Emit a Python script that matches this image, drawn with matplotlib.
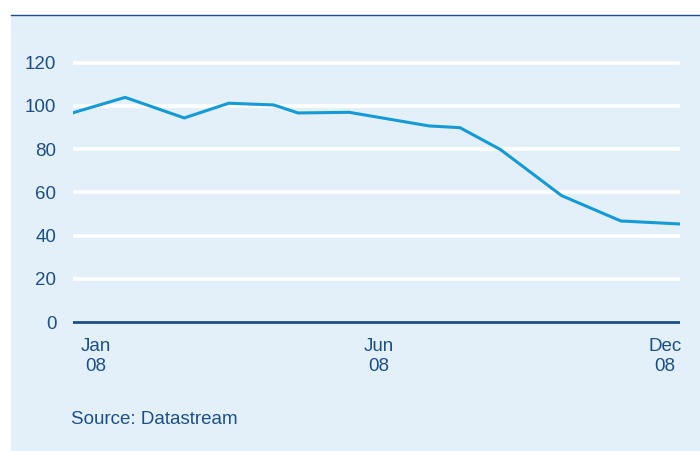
import matplotlib
matplotlib.use('Agg')
import matplotlib.pyplot as plt
from matplotlib.patches import Rectangle
from matplotlib.lines import Line2D

# index values, x in months from start of Jan 08
months = [0.0, 1.03, 2.2, 3.08, 3.97, 4.45, 5.46, 7.04, 7.65, 8.45, 9.66, 10.83, 12.0]
values = [96.8, 103.9, 94.4, 101.2, 100.4, 96.7, 97.0, 90.7, 89.9, 79.8, 58.5, 46.8, 45.4]

yticks = [0, 20, 40, 60, 80, 100, 120]
xtick_pos = [0.45, 6.05, 11.7]
xtick_labels = ['Jan\n08', 'Jun\n08', 'Dec\n08']

NAVY = '#1d4f86'
BG = '#e3f0f9'
LINE = '#159ad8'

plt.rcParams['font.family'] = ['Liberation Sans', 'DejaVu Sans']

W, H = 700, 451
fig = plt.figure(figsize=(W / 100, H / 100), dpi=100)

# background panel and top rule
fig.patches.append(Rectangle((11 / W, 0), 1 - 11 / W, (H - 15) / H,
                             transform=fig.transFigure, facecolor=BG,
                             edgecolor='none', zorder=-5))
fig.lines.append(Line2D([11 / W, 1], [(H - 15) / H] * 2, transform=fig.transFigure,
                        color=NAVY, linewidth=1.0, zorder=-4))

ax = fig.add_axes([73 / W, (H - 325.5) / H, (680 - 73) / W, 267.3 / H])
ax.set_facecolor('none')
ax.set_xlim(0, 12)
ax.set_ylim(-1.5, 122)

for y in yticks[1:]:
    ax.axhline(y, color='white', linewidth=2.6, zorder=1)
ax.axhline(0, color=NAVY, linewidth=2.0, zorder=3)

ax.plot(months, values, color=LINE, linewidth=2.2, zorder=2,
        solid_joinstyle='miter')

for s in ax.spines.values():
    s.set_visible(False)
ax.set_yticks(yticks)
ax.set_yticklabels([str(v) for v in yticks])
ax.set_xticks(xtick_pos)
ax.set_xticklabels(xtick_labels, linespacing=1.2)
ax.tick_params(axis='both', length=0, labelsize=13.5, labelcolor=NAVY)
ax.tick_params(axis='y', pad=12)
ax.tick_params(axis='x', pad=9)

fig.text(71 / W, (H - 419) / H, 'Source: Datastream', color=NAVY,
         fontsize=13.5, va='center', ha='left')

fig.savefig('out.png', dpi=100)
